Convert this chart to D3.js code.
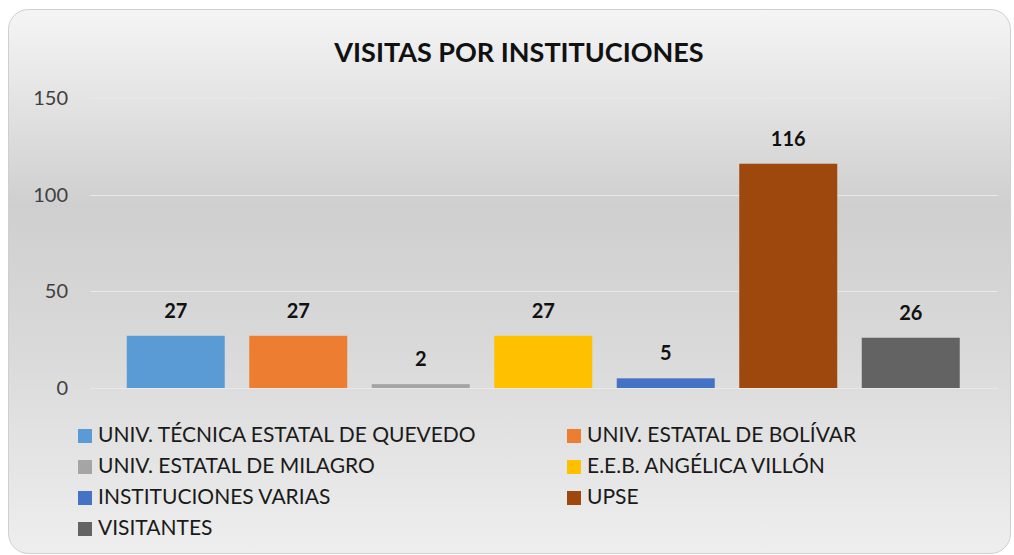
<!DOCTYPE html>
<html>
<head>
<meta charset="utf-8">
<script src="https://cdn.jsdelivr.net/npm/d3@7"></script>
<style>
  html, body { margin: 0; padding: 0; background: #ffffff; }
  svg { display: block; }
  text { font-family: Lato, "Open Sans", sans-serif; }
</style>
</head>
<body>
<svg id="chart" width="1014" height="555"></svg>
<script>
const categories = [
  "UNIV. TÉCNICA ESTATAL DE QUEVEDO",
  "UNIV. ESTATAL DE BOLÍVAR",
  "UNIV. ESTATAL DE MILAGRO",
  "E.E.B. ANGÉLICA VILLÓN",
  "INSTITUCIONES VARIAS",
  "UPSE",
  "VISITANTES"
];
const values = [27, 27, 2, 27, 5, 116, 26];
const colors = ["#5B9BD5", "#ED7D31", "#A5A5A5", "#FFC000", "#4472C4", "#9E480E", "#636363"];
const yTicks = [0, 50, 100, 150];
const title = "VISITAS POR INSTITUCIONES";

const svg = d3.select("#chart");

// background gradient
const defs = svg.append("defs");
const grad = defs.append("linearGradient").attr("id", "bg").attr("x1", 0).attr("y1", 0).attr("x2", 0).attr("y2", 1);
[[0, "#f5f5f5"], [0.36, "#cfcfcf"], [0.62, "#d9d9d9"], [1, "#eeeeee"]].forEach(([o, c]) =>
  grad.append("stop").attr("offset", o).attr("stop-color", c));

svg.append("rect")
  .attr("x", 8.5).attr("y", 9.5).attr("width", 1002).attr("height", 544)
  .attr("rx", 20).attr("ry", 20)
  .attr("fill", "url(#bg)").attr("stroke", "#cfcfcf").attr("stroke-width", 1);

const x = d3.scaleBand().domain(categories).range([114.5, 972]).paddingInner(0.2).paddingOuter(0.1);
const y = d3.scaleLinear().domain([0, 150]).range([388, 98]);

// gridlines
svg.append("g").selectAll("line").data(yTicks).join("line")
  .attr("x1", 90).attr("x2", 998)
  .attr("y1", d => Math.round(y(d)) + 0.5).attr("y2", d => Math.round(y(d)) + 0.5)
  .attr("stroke", "#e9e9e9").attr("stroke-width", 1.2);

// y axis labels
const yAxis = d3.axisLeft(y).tickValues(yTicks).tickSize(0).tickPadding(0);
const gy = svg.append("g").attr("transform", "translate(68,0)").call(yAxis);
gy.select(".domain").remove();
gy.selectAll("text").attr("font-size", 20).attr("fill", "#404040")
  .style("font-family", "Lato, 'Open Sans', sans-serif");

// bars
const bw = x.bandwidth();
svg.append("g").selectAll("rect").data(values).join("rect")
  .attr("x", (d, i) => x(categories[i]))
  .attr("y", d => y(d))
  .attr("width", bw)
  .attr("height", d => y(0) - y(d))
  .attr("fill", (d, i) => colors[i]);

// data labels
svg.append("g").selectAll("text").data(values).join("text")
  .attr("x", (d, i) => x(categories[i]) + bw / 2)
  .attr("y", d => y(d) - 23)
  .attr("text-anchor", "middle")
  .attr("dominant-baseline", "middle")
  .attr("font-size", 20).attr("font-weight", "bold").attr("fill", "#111")
  .text(d => d);

// title
svg.append("text")
  .attr("x", 519).attr("y", 55)
  .attr("text-anchor", "middle").attr("dominant-baseline", "middle")
  .attr("font-size", 27).attr("font-weight", "bold").attr("fill", "#111")
  .text(title);

// legend
const legCols = [78, 567];
const legRows = [436, 467, 498, 529];
const leg = svg.append("g").selectAll("g").data(categories).join("g")
  .attr("transform", (d, i) => `translate(${legCols[i % 2]},${legRows[Math.floor(i / 2)]})`);
leg.append("rect").attr("x", 0).attr("y", -7).attr("width", 14).attr("height", 14)
  .attr("fill", (d, i) => colors[i]);
leg.append("text").attr("x", 20).attr("y", 1).attr("dominant-baseline", "middle")
  .attr("font-size", 21).attr("fill", "#1a1a1a").text(d => d);
</script>
</body>
</html>
